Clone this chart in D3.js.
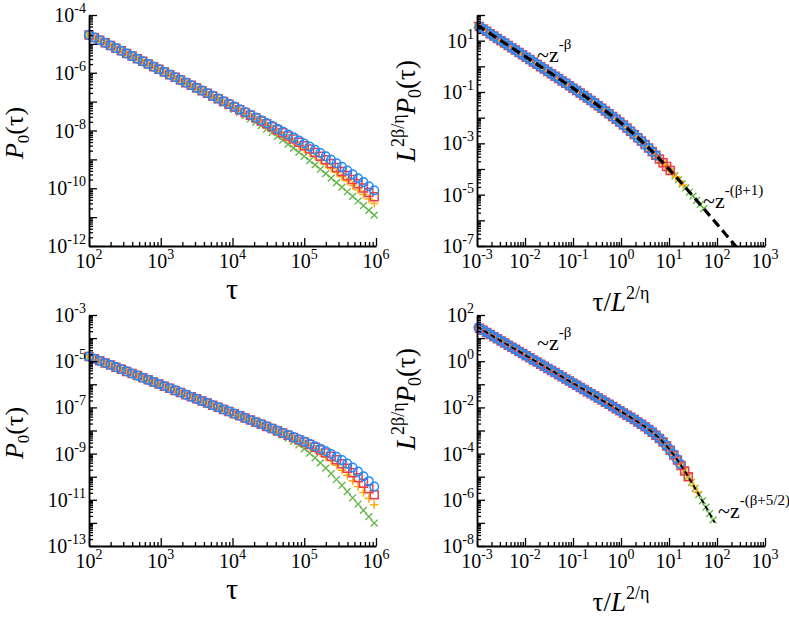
<!DOCTYPE html>
<html><head><meta charset="utf-8">
<script src="https://cdn.jsdelivr.net/npm/d3@7"></script>
<style>
body{margin:0;background:#fff;}
svg text{font-family:"Liberation Serif","Times New Roman",Times,serif;fill:#000;}
</style>
</head><body>
<svg id="chart" width="789" height="618" font-family="Liberation Serif, Times New Roman, serif"></svg>
<script>
// ---------- DATA (log10 values) ----------
// series order: green x, orange +, red square, blue circle (increasing L)
const seriesNames = ["L1", "L2", "L3", "L4"];
const logTau = [1.025,1.1,1.175,1.25,1.325,1.4,1.475,1.55,1.625,1.7,1.775,1.85,1.925,
 2,2.075,2.15,2.225,2.3,2.375,2.45,2.525,2.6,2.675,2.75,2.825,2.9,2.975,3.05,3.125,3.2,3.275,3.35,3.425,
 3.5,3.575,3.65,3.725,3.8,3.875,3.95,4.025,4.1,4.175,4.25,4.325,4.4,4.475,4.55,4.625,4.7,4.775,4.85,
 4.925,5,5.075,5.15,5.225,5.3,5.375,5.45,5.525,5.6,5.675,5.75,5.825,5.9,5.975];

// top row: log10 P0(tau)
const topGreen = [-3.500,-3.592,-3.683,-3.775,-3.866,-3.958,-4.049,-4.141,-4.232,-4.324,-4.415,-4.507,-4.599,
 -4.691,-4.783,-4.875,-4.967,-5.058,-5.151,-5.242,-5.334,-5.426,-5.519,
 -5.611,-5.704,-5.797,-5.890,-5.983,-6.077,-6.171,-6.266,-6.361,-6.457,
 -6.553,-6.651,-6.749,-6.849,-6.950,-7.052,-7.156,-7.263,-7.371,-7.482,
 -7.595,-7.711,-7.829,-7.952,-8.076,-8.205,-8.336,-8.472,-8.609,-8.750,
 -8.894,-9.040,-9.189,-9.340,-9.493,-9.648,-9.804,-9.962,-10.121,-10.281,
 -10.442,-10.604,-10.767,-10.930];
const topOrange = [-3.500,-3.592,-3.683,-3.775,-3.866,-3.958,-4.049,-4.141,-4.232,-4.324,-4.415,-4.507,-4.599,
 -4.690,-4.782,-4.874,-4.966,-5.057,-5.149,-5.240,-5.333,-5.424,-5.516,
 -5.607,-5.700,-5.791,-5.884,-5.975,-6.068,-6.160,-6.253,-6.346,-6.440,
 -6.533,-6.627,-6.721,-6.816,-6.911,-7.007,-7.103,-7.202,-7.300,-7.400,
 -7.501,-7.605,-7.709,-7.816,-7.925,-8.036,-8.150,-8.267,-8.386,-8.509,
 -8.635,-8.765,-8.896,-9.033,-9.171,-9.313,-9.457,-9.604,-9.753,-9.905,
 -10.058,-10.214,-10.370,-10.529];
const topRed = [-3.500,-3.592,-3.683,-3.775,-3.866,-3.958,-4.049,-4.141,-4.232,-4.324,-4.415,-4.507,-4.599,
 -4.690,-4.782,-4.873,-4.965,-5.057,-5.149,-5.240,-5.332,-5.423,-5.515,
 -5.606,-5.698,-5.790,-5.882,-5.974,-6.066,-6.158,-6.250,-6.342,-6.435,
 -6.527,-6.620,-6.713,-6.806,-6.899,-6.994,-7.088,-7.183,-7.278,-7.375,
 -7.472,-7.570,-7.669,-7.770,-7.872,-7.976,-8.081,-8.189,-8.298,-8.411,
 -8.525,-8.644,-8.764,-8.889,-9.016,-9.147,-9.280,-9.417,-9.557,-9.700,
 -9.845,-9.993,-10.143,-10.296];
const topBlue = [-3.500,-3.592,-3.683,-3.775,-3.866,-3.958,-4.049,-4.141,-4.232,-4.324,-4.415,-4.507,-4.599,
 -4.690,-4.782,-4.873,-4.965,-5.056,-5.148,-5.239,-5.331,-5.423,-5.515,
 -5.606,-5.698,-5.789,-5.881,-5.973,-6.065,-6.156,-6.248,-6.340,-6.432,
 -6.524,-6.616,-6.708,-6.801,-6.893,-6.986,-7.079,-7.172,-7.266,-7.360,
 -7.454,-7.550,-7.645,-7.742,-7.839,-7.937,-8.036,-8.137,-8.239,-8.344,
 -8.449,-8.557,-8.667,-8.780,-8.895,-9.014,-9.134,-9.259,-9.387,-9.518,
 -9.652,-9.789,-9.929,-10.073];

// bottom row: log10 P0(tau)
const botGreen = [-3.610,-3.702,-3.793,-3.885,-3.976,-4.068,-4.159,-4.251,-4.342,-4.434,-4.525,-4.617,-4.709,
 -4.800,-4.892,-4.983,-5.075,-5.166,-5.258,-5.349,-5.441,-5.532,-5.624,
 -5.715,-5.807,-5.898,-5.990,-6.081,-6.173,-6.264,-6.356,-6.447,-6.539,
 -6.631,-6.723,-6.814,-6.906,-6.998,-7.091,-7.183,-7.276,-7.369,-7.464,
 -7.559,-7.657,-7.756,-7.860,-7.966,-8.080,-8.199,-8.329,-8.470,-8.625,
 -8.794,-8.981,-9.182,-9.399,-9.629,-9.871,-10.121,-10.380,-10.643,-10.912,
 -11.183,-11.456,-11.731,-12.007];
const botOrange = [-3.610,-3.702,-3.793,-3.885,-3.976,-4.068,-4.159,-4.251,-4.342,-4.434,-4.525,-4.617,-4.709,
 -4.800,-4.892,-4.983,-5.075,-5.166,-5.258,-5.349,-5.441,-5.532,-5.624,
 -5.715,-5.807,-5.898,-5.990,-6.081,-6.173,-6.264,-6.356,-6.447,-6.539,
 -6.630,-6.722,-6.813,-6.905,-6.997,-7.089,-7.181,-7.273,-7.364,-7.456,
 -7.548,-7.641,-7.734,-7.829,-7.924,-8.021,-8.119,-8.221,-8.326,-8.437,
 -8.554,-8.680,-8.816,-8.966,-9.129,-9.310,-9.505,-9.717,-9.942,-10.180,
 -10.427,-10.683,-10.945,-11.212];
const botRed = [-3.610,-3.702,-3.793,-3.885,-3.976,-4.068,-4.159,-4.251,-4.342,-4.434,-4.525,-4.617,-4.709,
 -4.800,-4.892,-4.983,-5.075,-5.166,-5.258,-5.349,-5.441,-5.532,-5.624,
 -5.715,-5.807,-5.898,-5.990,-6.081,-6.173,-6.264,-6.356,-6.447,-6.539,
 -6.630,-6.722,-6.813,-6.905,-6.996,-7.088,-7.179,-7.271,-7.363,-7.455,
 -7.546,-7.639,-7.731,-7.824,-7.917,-8.011,-8.105,-8.201,-8.298,-8.398,
 -8.501,-8.609,-8.722,-8.843,-8.973,-9.116,-9.271,-9.442,-9.629,-9.832,
 -10.050,-10.282,-10.524,-10.776];
const botBlue = [-3.610,-3.702,-3.793,-3.885,-3.976,-4.068,-4.159,-4.251,-4.342,-4.434,-4.525,-4.617,-4.709,
 -4.800,-4.892,-4.983,-5.075,-5.166,-5.258,-5.349,-5.441,-5.532,-5.624,
 -5.715,-5.807,-5.898,-5.990,-6.081,-6.173,-6.264,-6.356,-6.447,-6.539,
 -6.630,-6.722,-6.813,-6.905,-6.996,-7.088,-7.179,-7.271,-7.362,-7.454,
 -7.545,-7.637,-7.729,-7.821,-7.913,-8.005,-8.099,-8.192,-8.287,-8.382,
 -8.479,-8.578,-8.680,-8.787,-8.897,-9.016,-9.143,-9.282,-9.433,-9.600,
 -9.782,-9.981,-10.194,-10.422];

// scaling factors per series: log10 L^(2/eta) and log10 L^(2beta/eta)
const topXShift = [4.25, 4.68, 4.95, 5.24];
const topYShift = [5.384, 5.909, 6.238, 6.592];
const botXShift = [4.055, 4.383, 4.574, 4.746];
const botYShift = [5.137, 5.537, 5.770, 5.980];

// dashed scaling-function curves (log10 z, log10 f)
const topCurveZ = [-3,-2.5,-2,-1.5,-1,-0.5,0,0.5,1,1.5,2,2.4];
const topCurveF = [1.609,0.998,0.387,-0.227,-0.850,-1.498,-2.210,-3.042,-4.006,-5.058,-6.148,-7.03];
const botCurveZ = [-3,-2.5,-2,-1.5,-1,-0.5,0,0.25,0.5,0.75,1,1.25,1.5,1.75,1.95];
const botCurveF = [1.490,0.880,0.270,-0.340,-0.950,-1.561,-2.176,-2.494,-2.836,-3.247,-3.792,-4.508,-5.347,-6.245,-6.98];

// axis decades
const leftXDecades = [2, 6];
const rightXDecades = [-3, 3];
const topLeftYLabels = [-12, -10, -8, -6, -4];
const botLeftYLabels = [-13, -11, -9, -7, -5, -3];
const topRightYLabels = [-7, -5, -3, -1, 1];
const botRightYLabels = [-8, -6, -4, -2, 0, 2];

// ---------- STYLE ----------
const colors = ["#5db543", "#ffad0a", "#ea3f49", "#1d8cff"];
const shapes = ["times", "plus", "square", "circle"];

const svg = d3.select("#chart");

function markerPath(shape) {
  if (shape === "times") return "M-3.4,-3.4L3.4,3.4M-3.4,3.4L3.4,-3.4";
  if (shape === "plus") return "M-4.2,0H4.2M0,-4.2V4.2";
  if (shape === "square") return "M-4,-4H4V4H-4Z";
  const p = d3.path(); p.arc(0, 0, 4.3, 0, 2 * Math.PI); return p.toString();
}

function supLabel(g, x, y, base, exp, anchor, baseSize, expSize, rise) {
  const t = g.append("text").attr("x", x).attr("y", y).attr("text-anchor", anchor);
  t.append("tspan").attr("font-size", baseSize).text(base);
  t.append("tspan").attr("font-size", expSize).attr("dy", -rise).text(exp);
  return t;
}

function drawPanel(cfg) {
  const g = svg.append("g");
  const x = d3.scaleLog().domain([10 ** cfg.xDec[0], 10 ** cfg.xDec[1]]).range([cfg.x0, cfg.x1]);
  const y = d3.scaleLog().domain([10 ** cfg.yDec[0], 10 ** cfg.yDec[1]]).range([cfg.yB, cfg.yT]);

  const xMajor = d3.range(cfg.xDec[0], cfg.xDec[1] + 1).map(e => 10 ** e);
  const xMinor = [];
  d3.range(cfg.xDec[0], cfg.xDec[1]).forEach(e => { for (let m = 2; m <= 9; m++) xMinor.push(m * 10 ** e); });
  const yMajor = d3.range(cfg.yDec[0], cfg.yDec[1] + 1).map(e => 10 ** e);
  const yMinor = [];
  d3.range(cfg.yDec[0], cfg.yDec[1]).forEach(e => { for (let m = 2; m <= 9; m++) yMinor.push(m * 10 ** e); });

  const cid = "clip" + cfg.id;
  svg.append("clipPath").attr("id", cid).append("rect")
    .attr("x", cfg.x0).attr("y", cfg.yT).attr("width", cfg.x1 - cfg.x0).attr("height", cfg.yB - cfg.yT);

  // markers
  const mg = g.append("g");
  cfg.series.forEach((s, i) => {
    const pts = [];
    logTau.forEach((lt, k) => {
      let lx = lt, ly = s[k];
      if (cfg.xShift) { lx = lt - cfg.xShift[i]; ly = s[k] + cfg.yShift[i]; }
      if (lx < cfg.xDec[0] - 1e-6 || lx > cfg.xDec[1]) return;
      if (ly < cfg.yDec[0] || ly > cfg.yDec[1]) return;
      pts.push([lx, ly]);
    });
    mg.append("g").selectAll("path").data(pts).join("path")
      .attr("transform", d => `translate(${x(10 ** d[0])},${y(10 ** d[1])})`)
      .attr("d", markerPath(shapes[i]))
      .attr("fill", "none")
      .attr("stroke", colors[i])
      .attr("stroke-width", shapes[i] === "times" ? 1.3 : 1.5);
  });

  // dashed curve
  if (cfg.curveZ) {
    const line = d3.line().x(d => x(10 ** d[0])).y(d => y(10 ** d[1])).curve(d3.curveMonotoneX);
    g.append("path").attr("clip-path", `url(#${cid})`)
      .attr("d", line(cfg.curveZ.map((z, i) => [z, cfg.curveF[i]])))
      .attr("fill", "none").attr("stroke", "#000")
      .attr("stroke-width", cfg.dashW).attr("stroke-dasharray", cfg.dash);
  }

  // axes (inward ticks)
  g.append("g").attr("transform", `translate(0,${cfg.yB})`)
    .call(d3.axisBottom(x).tickValues(xMajor).tickSize(-8).tickSizeOuter(0).tickFormat(""));
  g.append("g").attr("transform", `translate(0,${cfg.yB})`)
    .call(d3.axisBottom(x).tickValues(xMinor).tickSize(-4).tickSizeOuter(0).tickFormat(""))
    .select(".domain").remove();
  g.append("g").attr("transform", `translate(${cfg.x0},0)`)
    .call(d3.axisLeft(y).tickValues(yMajor).tickSize(-8).tickSizeOuter(0).tickFormat(""));
  g.append("g").attr("transform", `translate(${cfg.x0},0)`)
    .call(d3.axisLeft(y).tickValues(yMinor).tickSize(-4).tickSizeOuter(0).tickFormat(""))
    .select(".domain").remove();
  g.selectAll(".domain").attr("stroke-width", 1.8).attr("stroke", "#000");
  g.selectAll(".tick line").attr("stroke-width", 1.3).attr("stroke", "#000");

  // tick labels
  const lg = g.append("g");
  d3.range(cfg.xDec[0], cfg.xDec[1] + 1).forEach(e => {
    supLabel(lg, x(10 ** e), cfg.yB + 22, "10", String(e), "middle", 20, 14, 9);
  });
  cfg.yLabels.forEach(e => {
    supLabel(lg, cfg.x0 - 3, y(10 ** e) + 7, "10", String(e), "end", 20, 14, 9);
  });
}

const panels = [
  { id: 1, x0: 89, x1: 376, yT: 15, yB: 246, xDec: leftXDecades, yDec: [-12, -4], yLabels: topLeftYLabels,
    series: [topGreen, topOrange, topRed, topBlue] },
  { id: 2, x0: 477, x1: 765, yT: 15, yB: 246, xDec: rightXDecades, yDec: [-7, 2], yLabels: topRightYLabels,
    series: [topGreen, topOrange, topRed, topBlue], xShift: topXShift, yShift: topYShift,
    curveZ: topCurveZ, curveF: topCurveF, dashW: 3.2, dash: "9,5" },
  { id: 3, x0: 89, x1: 376, yT: 315, yB: 546, xDec: leftXDecades, yDec: [-13, -3], yLabels: botLeftYLabels,
    series: [botGreen, botOrange, botRed, botBlue] },
  { id: 4, x0: 477, x1: 765, yT: 315, yB: 546, xDec: rightXDecades, yDec: [-8, 2], yLabels: botRightYLabels,
    series: [botGreen, botOrange, botRed, botBlue], xShift: botXShift, yShift: botYShift,
    curveZ: botCurveZ, curveF: botCurveF, dashW: 1.8, dash: "5,3" }
];
panels.forEach(drawPanel);

// ---------- AXIS TITLES ----------
function leftYTitle(cx, cy) {
  const t = svg.append("text").attr("transform", `translate(${cx},${cy}) rotate(-90)`)
    .attr("text-anchor", "middle").attr("font-size", 26);
  t.append("tspan").attr("font-style", "italic").text("P");
  t.append("tspan").attr("font-size", 17).attr("dy", 6).text("0");
  t.append("tspan").attr("dy", -6).text("(τ)");
}
function rightYTitle(cx, cy) {
  const t = svg.append("text").attr("transform", `translate(${cx},${cy}) rotate(-90)`)
    .attr("text-anchor", "middle").attr("font-size", 27);
  t.append("tspan").attr("font-style", "italic").text("L");
  t.append("tspan").attr("font-size", 18).attr("dy", -11).text("2β/η");
  t.append("tspan").attr("font-style", "italic").attr("dy", 11).text("P");
  t.append("tspan").attr("font-size", 18).attr("dy", 6).text("0");
  t.append("tspan").attr("dy", -6).text("(τ)");
}
function leftXTitle(cx, by) {
  svg.append("text").attr("x", cx).attr("y", by).attr("text-anchor", "middle")
    .attr("font-size", 30).text("τ");
}
function rightXTitle(cx, by) {
  const t = svg.append("text").attr("x", cx).attr("y", by).attr("text-anchor", "middle").attr("font-size", 27);
  t.append("tspan").text("τ/");
  t.append("tspan").attr("font-style", "italic").text("L");
  t.append("tspan").attr("font-size", 18).attr("dy", -12).text("2/η");
}
leftYTitle(23, 133); leftYTitle(23, 433);
rightYTitle(415, 111); rightYTitle(415, 399);
leftXTitle(232, 299); leftXTitle(232, 599);
rightXTitle(621, 311); rightXTitle(621, 611);

// ---------- ANNOTATIONS ----------
function note(x, y, exp) {
  const t = svg.append("text").attr("x", x).attr("y", y).attr("font-size", 22);
  t.append("tspan").text("~z");
  t.append("tspan").attr("font-size", 15).attr("dy", -13).text(exp);
}
note(537, 62, "-β");
note(703, 208, "-(β+1)");
note(537, 350, "-β");
note(718, 518, "-(β+5/2)");
</script>
</body></html>
